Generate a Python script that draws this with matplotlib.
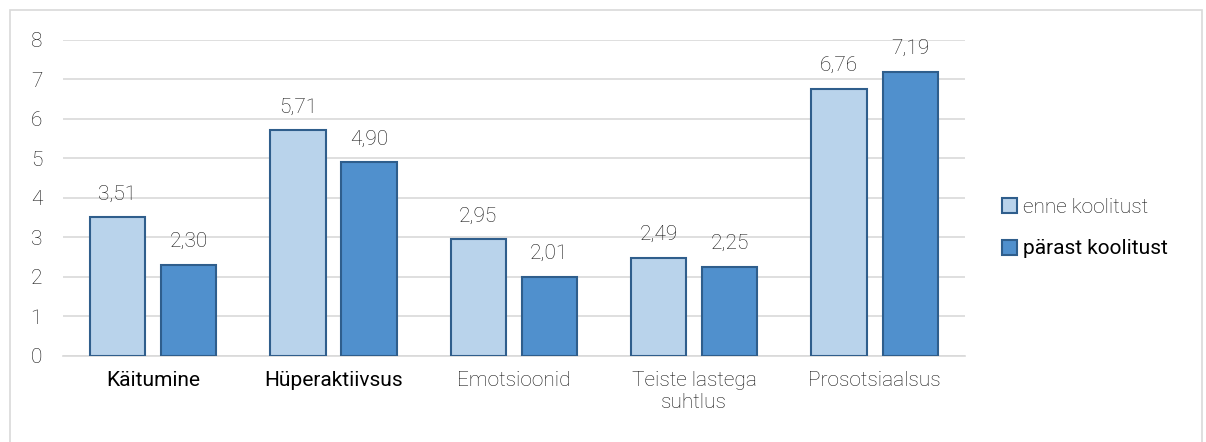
import matplotlib.pyplot as plt
import numpy as np
from matplotlib.patches import Rectangle

categories = ["Käitumine", "Hüperaktiivsus", "Emotsioonid", "Teiste lastega\nsuhtlus", "Prosotsiaalsus"]
enne = [3.51, 5.71, 2.95, 2.49, 6.76]
parast = [2.30, 4.90, 2.01, 2.25, 7.19]
series_names = ["enne koolitust", "pärast koolitust"]

plt.rcParams['font.family'] = ['Roboto', 'DejaVu Sans']
plt.rcParams['font.weight'] = 'light'
FS = 15
TXT = '#141414'

fig = plt.figure(figsize=(12.06, 4.42), dpi=100)
ax = fig.add_axes([0.0522, 0.1946, 0.7478, 0.715])

x = np.arange(len(categories))
w = 0.306
off = 0.197
b1 = ax.bar(x - off, enne, w, color='#B9D3EB', edgecolor='#2F5E8C', linewidth=1.5,
            label=series_names[0], zorder=3)
b2 = ax.bar(x + off, parast, w, color='#5090CD', edgecolor='#2F5E8C', linewidth=1.5,
            label=series_names[1], zorder=3)

for bars, vals in [(b1, enne), (b2, parast)]:
    for rect, v in zip(bars, vals):
        ax.annotate(f"{v:.2f}".replace(".", ","), (rect.get_x() + rect.get_width() / 2, v),
                    xytext=(0, 10), textcoords='offset points', ha='center', va='bottom',
                    fontsize=FS, color=TXT)

ax.set_xlim(-0.5, len(categories) - 0.5)
ax.set_ylim(0, 8)
ax.set_yticks(range(0, 9))
ax.set_xticks(x)
ax.set_xticklabels(categories)
ax.grid(axis='y', color='#D9D9D9', linewidth=1.2, zorder=0)
for s in ['top', 'right', 'left']:
    ax.spines[s].set_visible(False)
ax.spines['bottom'].set_color('#D9D9D9')
ax.spines['bottom'].set_linewidth(1.2)
ax.tick_params(axis='both', length=0, labelsize=FS, colors=TXT)
ax.tick_params(axis='y', pad=15)
ax.tick_params(axis='x', pad=11)
for lbl in ax.get_xticklabels()[:2]:
    lbl.set_fontweight('normal')
    lbl.set_color('black')

leg = ax.legend(loc='center left', bbox_to_anchor=(1.02, 0.405), frameon=False, fontsize=FS,
                handlelength=0.75, handleheight=0.75, handletextpad=0.3, labelspacing=1.1)
leg.get_texts()[0].set_color(TXT)
leg.get_texts()[1].set_fontweight('normal')
leg.get_texts()[1].set_color('black')

fig.patches.append(Rectangle((10 / 1206, -0.1), 1192 / 1206, 1.1 - 10 / 442,
                             transform=fig.transFigure, fill=False,
                             edgecolor='#D9D9D9', linewidth=1.2))

plt.savefig("out.png", dpi=100)
